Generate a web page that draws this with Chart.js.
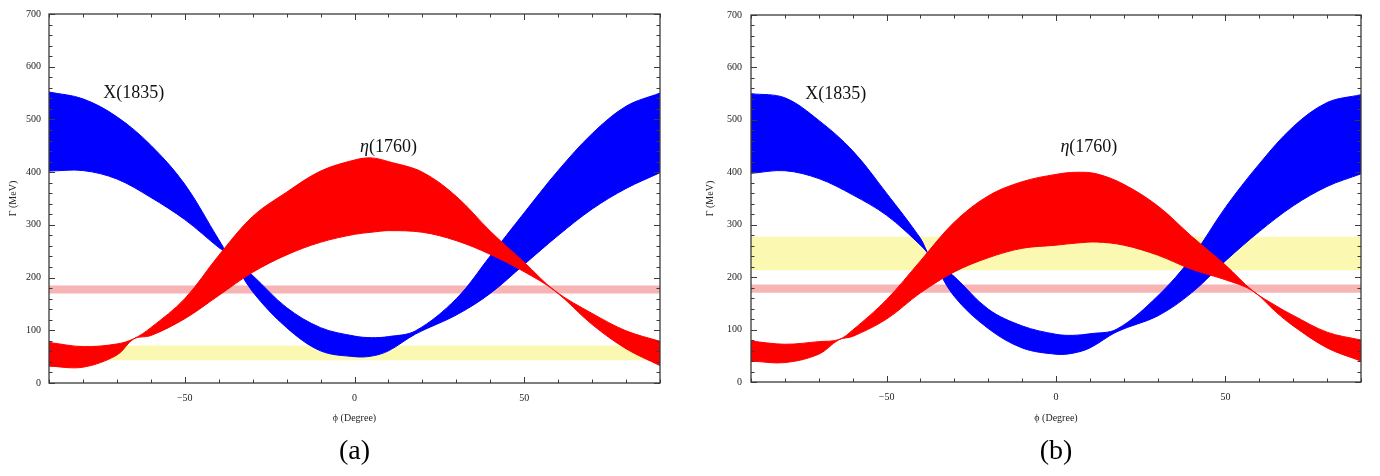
<!DOCTYPE html>
<html>
<head>
<meta charset="utf-8">
<script src="https://cdn.jsdelivr.net/npm/chart.js@4.4.0/dist/chart.umd.min.js"></script>
<style>
html,body{margin:0;padding:0;background:#fff;overflow:hidden;width:1380px;height:476px;}
.box{position:absolute;top:0;height:476px;}
#boxA{left:0;width:685px;}
#boxB{left:697px;width:683px;}
</style>
</head>
<body>
<div class="box" id="boxA"><canvas id="cA"></canvas></div>
<div class="box" id="boxB"><canvas id="cB"></canvas></div>
<script>
// ---------- data (phi in degrees, Gamma in MeV) ----------
const phiRange = [-90, 90];
const xTickValues = [-50, 0, 50];
const yTickValues = [0, 100, 200, 300, 400, 500, 600, 700];

// X(1835) band
const phiBlue = [-90, -80, -70, -60, -50, -40, -37, -30, -20, -10, 0, 5, 10, 18, 30, 40, 50, 60, 70, 80, 90];
const blueUpperA = [552, 539, 505, 451, 377, 272, 243, 204, 143, 105, 89, 86, 88, 99, 160, 241, 323, 403, 473, 525, 550];
const blueLowerA = [402, 403, 387, 352, 310, 257, 243, 173, 105, 61, 50, 51, 61, 93, 129, 170, 225, 280, 330, 369, 399];
const blueUpperB = [550, 542, 499, 441, 360, 274, 238, 201, 139, 107, 91, 89, 92, 101, 164, 237, 333, 416, 487, 533, 548];
const blueLowerB = [398, 403, 388, 357, 318, 261, 238, 163, 102, 65, 53, 55, 65, 96, 126, 170, 231, 287, 336, 373, 397];

// eta(1760) band
const phiRedA = [-90, -80, -70, -65, -60, -50, -40, -30, -20, -10, 0, 5, 10, 20, 30, 40, 50, 59, 70, 80, 90];
const redUpperA = [77, 69, 74, 84, 105, 160, 242, 316, 362, 402, 423, 427, 420, 400, 354, 288, 229, 175, 132, 99, 79];
const redLowerA = [32, 30, 53, 84, 90, 122, 166, 210, 243, 267, 282, 286, 289, 286, 270, 244, 211, 175, 111, 65, 33];
const phiRedB = [-90, -80, -70, -64, -60, -50, -40, -30, -20, -10, 0, 6, 12, 20, 30, 40, 50, 58, 65, 70, 80, 90];
const redUpperB = [78, 72, 77, 81, 99, 157, 231, 305, 355, 382, 396, 400, 397, 377, 336, 278, 223, 174, 145, 127, 95, 80];
const redLowerB = [40, 37, 53, 81, 87, 120, 170, 210, 237, 255, 261, 265, 267, 261, 242, 215, 195, 174, 133, 107, 65, 40];

// horizontal bands [low, high]
const yellowBandA = [43, 71];
const pinkBandA = [170, 185];
const yellowBandB = [213, 277];
const pinkBandB = [170, 186];

// ---------- helpers ----------
const pts = (xs, ys) => xs.map((x, i) => ({x: x, y: ys[i]}));
const flat = v => phiRange.map(x => ({x: x, y: v}));
const SERIF = "'Liberation Serif', 'DejaVu Serif', serif";

function lineDs(data, color, fill, order, smooth) {
  return {
    data: data, borderColor: color, backgroundColor: color, borderWidth: smooth ? 1 : 0,
    pointRadius: 0, pointHoverRadius: 0, fill: fill, order: order,
    cubicInterpolationMode: 'default', tension: smooth ? 0.35 : 0
  };
}

const framePlugin = {
  id: 'frame',
  afterDatasetsDraw(chart) {
    const {ctx, chartArea: a, scales: {x, y}} = chart;
    ctx.save();
    ctx.strokeStyle = '#3a3a3a';
    ctx.lineWidth = 1.3;
    ctx.strokeRect(a.left, a.top, a.right - a.left, a.bottom - a.top);
    ctx.lineWidth = 1;
    ctx.beginPath();
    for (let v = -90; v <= 90; v += 10) {
      const px = Math.round(x.getPixelForValue(v)) + 0.5;
      const len = (v % 50 === 0) ? 6 : 3.5;
      ctx.moveTo(px, a.bottom); ctx.lineTo(px, a.bottom - len);
      ctx.moveTo(px, a.top); ctx.lineTo(px, a.top + len);
    }
    for (let v = 0; v <= 700; v += 20) {
      const py = Math.round(y.getPixelForValue(v)) + 0.5;
      const len = (v % 100 === 0) ? 6 : 3.5;
      ctx.moveTo(a.left, py); ctx.lineTo(a.left + len, py);
      ctx.moveTo(a.right, py); ctx.lineTo(a.right - len, py);
    }
    ctx.stroke();
    ctx.restore();
  }
};

const labelPlugin = {
  id: 'curveLabels',
  afterDatasetsDraw(chart, args, opts) {
    const {ctx, scales: {x, y}} = chart;
    ctx.save();
    ctx.fillStyle = '#111';
    ctx.textBaseline = 'middle';
    ctx.textAlign = 'left';
    (opts.items || []).forEach(it => {
      const cx = x.getPixelForValue(it.x), cy = y.getPixelForValue(it.y);
      const fItal = 'italic 18px ' + SERIF, fNorm = '18px ' + SERIF;
      ctx.font = fItal; const w1 = it.greek ? ctx.measureText(it.greek).width : 0;
      ctx.font = fNorm; const w2 = ctx.measureText(it.text).width;
      let sx = cx - (w1 + w2) / 2;
      if (it.greek) { ctx.font = fItal; ctx.fillText(it.greek, sx, cy); sx += w1; }
      ctx.font = fNorm; ctx.fillText(it.text, sx, cy);
    });
    ctx.restore();
  }
};

function makeChart(id, p) {
  const datasets = [
    lineDs(flat(p.yellow[0]), '#fbf8b2', false, 4, false),
    lineDs(flat(p.yellow[1]), '#fbf8b2', '-1', 4, false),
    lineDs(flat(p.pink[0]), '#f7b4b4', false, 3, false),
    lineDs(flat(p.pink[1]), '#f7b4b4', '-1', 3, false),
    lineDs(pts(phiBlue, p.blueLo), '#0000ff', false, 2, true),
    lineDs(pts(phiBlue, p.blueUp), '#0000ff', '-1', 2, true),
    lineDs(pts(p.phiRed, p.redLo), '#ff0000', false, 1, true),
    lineDs(pts(p.phiRed, p.redUp), '#ff0000', '-1', 1, true)
  ];
  const tickFont = {family: SERIF, size: 10};
  return new Chart(document.getElementById(id), {
    type: 'line',
    data: {datasets: datasets},
    plugins: [framePlugin, labelPlugin],
    options: {
      responsive: true, maintainAspectRatio: false, animation: false,
      events: [],
      layout: {padding: {top: p.top, right: p.right, left: 0, bottom: 0}},
      plugins: {
        legend: {display: false},
        tooltip: {enabled: false},
        title: {
          display: true, text: p.panel, position: 'bottom', fullSize: false,
          font: {family: SERIF, size: 28, weight: 'normal', lineHeight: 1.2}, color: '#000',
          padding: {top: 4, bottom: 8}
        },
        curveLabels: {items: p.labels}
      },
      scales: {
        x: {
          type: 'linear', min: phiRange[0], max: phiRange[1],
          afterBuildTicks: s => { s.ticks = xTickValues.map(v => ({value: v})); },
          afterFit: s => { s.height = p.xAxisH; },
          grid: {display: false, drawTicks: false}, border: {display: false},
          ticks: {padding: 9, font: tickFont, color: '#222', maxRotation: 0,
                  callback: v => String(v).replace('-', '\u2212')},
          title: {display: true, text: '\u03d5 (Degree)', font: tickFont, color: '#222',
                  padding: {top: 0, bottom: 6}}
        },
        y: {
          type: 'linear', min: 0, max: 700,
          afterBuildTicks: s => { s.ticks = yTickValues.map(v => ({value: v})); },
          afterFit: s => { s.width = p.yAxisW; },
          grid: {display: false, drawTicks: false}, border: {display: false},
          ticks: {padding: p.yPad, font: tickFont, color: '#222'},
          title: {display: true, text: '\u0393 (MeV)', font: tickFont, color: '#222',
                  padding: {top: 7, bottom: 0}}
        }
      }
    }
  });
}

makeChart('cA', {
  panel: '(a)', top: 6, right: 25, yAxisW: 49, yPad: 8, xAxisH: 47.4,
  yellow: yellowBandA, pink: pinkBandA,
  blueUp: blueUpperA, blueLo: blueLowerA,
  phiRed: phiRedA, redUp: redUpperA, redLo: redLowerA,
  labels: [{text: 'X(1835)', x: -65, y: 550}, {greek: '\u03b7', text: '(1760)', x: 10, y: 447}]
});
makeChart('cB', {
  panel: '(b)', top: 4, right: 19, yAxisW: 54, yPad: 9, xAxisH: 48.4,
  yellow: yellowBandB, pink: pinkBandB,
  blueUp: blueUpperB, blueLo: blueLowerB,
  phiRed: phiRedB, redUp: redUpperB, redLo: redLowerB,
  labels: [{text: 'X(1835)', x: -65, y: 549}, {greek: '\u03b7', text: '(1760)', x: 9.7, y: 448}]
});
</script>
</body>
</html>
